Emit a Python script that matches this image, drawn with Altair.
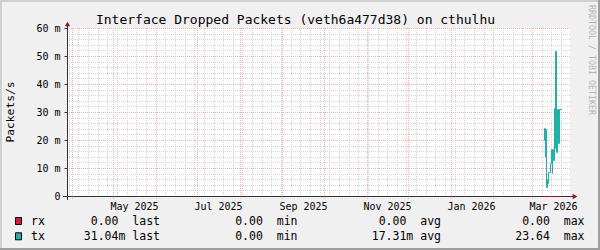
import altair as alt
import pandas as pd

FONT = "DejaVu Sans Mono"

# ---------------- data ----------------
sample_times = [
    "2026-03-09T08:15:00Z", "2026-03-09T17:00:00Z", "2026-03-10T05:10:00Z", "2026-03-10T17:20:00Z",
    "2026-03-11T05:30:00Z", "2026-03-11T14:15:00Z", "2026-03-12T04:15:00Z", "2026-03-12T13:00:00Z",
    "2026-03-13T01:00:00Z", "2026-03-14T10:10:00Z", "2026-03-14T22:25:00Z", "2026-03-15T10:35:00Z",
    "2026-03-15T22:45:00Z", "2026-03-16T09:15:00Z", "2026-03-16T18:00:00Z", "2026-03-17T07:50:00Z",
    "2026-03-17T13:05:00Z", "2026-03-18T18:40:00Z", "2026-03-19T06:55:00Z", "2026-03-20T07:15:00Z",
    "2026-03-20T16:00:00Z", "2026-03-21T19:50:00Z",
]
tx_values = [0.0200, 0.0243, 0.0140, 0.0240, 0.0140, 0.0032, 0.0060, 0.0046,
             0.0087, 0.0118, 0.0168, 0.0082, 0.0168, 0.0129, 0.0313, 0.0170,
             0.0518, 0.0157, 0.0310, 0.0190, 0.03104, 0.03104]
rx_values = [0.0, 0.0, 0.0, 0.0, 0.0, 0.0, 0.0, 0.0, 0.0, 0.0, 0.0,
             0.0, 0.0, 0.0, 0.0, 0.0, 0.0, 0.0, 0.0, 0.0, 0.0, 0.0]

month_starts = ["2025-04-01", "2025-05-01", "2025-06-01", "2025-07-01", "2025-08-01", "2025-09-01",
                "2025-10-01", "2025-11-01", "2025-12-01", "2026-01-01", "2026-02-01", "2026-03-01"]
label_months = [(2025, 5), (2025, 7), (2025, 9), (2025, 11), (2026, 1), (2026, 3)]
y_major = [0.01, 0.02, 0.03, 0.04, 0.05, 0.06]
y_ticks = [0.0, 0.01, 0.02, 0.03, 0.04, 0.05, 0.06]
y_minor = [0.002, 0.004, 0.006, 0.008, 0.012, 0.014, 0.016, 0.018, 0.022, 0.024, 0.026, 0.028,
           0.032, 0.034, 0.036, 0.038, 0.042, 0.044, 0.046, 0.048, 0.052, 0.054, 0.056, 0.058]

title_text = "Interface Dropped Packets (veth6a477d38) on cthulhu"
y_title = "Packets/s"
side_text = "RRDTOOL / TOBI OETIKER"

series_names = ["rx", "tx"]
series_colors = ["#dc143c", "#20b2aa"]
last_vals = ["0.00\u00a0", "31.04m"]
min_vals = ["0.00\u00a0", "0.00\u00a0"]
avg_vals = ["0.00\u00a0", "17.31m"]
max_vals = ["0.00\u00a0", "23.64\u00a0"]

# ---------------- layout ----------------
W, H = 503, 168
PAD_L, PAD_T = 67, 28

week_dates = pd.date_range("2025-03-30", "2026-03-28", freq="7D").strftime("%Y-%m-%d").tolist()
week_minor = [d for d in week_dates if d not in month_starts]

x_scale = alt.Scale(type="utc",
                    domain=[alt.DateTime(year=2025, month=3, date=28, hours=16, utc=True),
                            alt.DateTime(year=2026, month=3, date=28, hours=16, utc=True)],
                    round=True)
y_scale = alt.Scale(domain=[0, 0.06], nice=False, zero=True, round=True)

x_axis = alt.Axis(
    values=[alt.DateTime(year=y, month=m, date=16, utc=True) for y, m in label_months],
    labelExpr="utcFormat(datum.value, '%b %Y')",
    ticks=False, tickSize=0, domain=False, grid=False, title=None,
    labelFont=FONT, labelFontSize=10, labelColor="#000000",
    labelBaseline="alphabetic", labelPadding=13, labelFlush=False, labelOverlap=False,
    labelBound=False,
)
y_axis = alt.Axis(
    values=y_ticks,
    labelExpr="datum.value == 0 ? '0\u00a0\u00a0' : format(datum.value * 1000, '.0f') + '\u00a0m'",
    ticks=True, tickSize=3, tickColor="#333333", domain=False, grid=False, title=None,
    labelFont=FONT, labelFontSize=10, labelColor="#000000", labelPadding=4,
)

MINOR = "#d4d4d4"
MAJOR = "#f4b0b0"
AXIS = "#333333"
ARROW = "#7f1f1f"

def df1(**kw):
    return pd.DataFrame({k: [v] for k, v in kw.items()})

layers = []

# minor horizontal grid
layers.append(alt.Chart(pd.DataFrame({"v": y_minor})).mark_rule(
    color=MINOR, strokeDash=[1, 1], strokeWidth=1, yOffset=0.5
).encode(y=alt.Y("v:Q", scale=y_scale, axis=y_axis)))

# minor vertical grid (weekly)
layers.append(alt.Chart(pd.DataFrame({"d": week_minor})).mark_rule(
    color=MINOR, strokeDash=[1, 1], strokeWidth=1, xOffset=0.5
).encode(x=alt.X("d:T", scale=x_scale, axis=x_axis), y=alt.value(0), y2=alt.value(H)))

# major horizontal grid
layers.append(alt.Chart(pd.DataFrame({"v": y_major})).mark_rule(
    color=MAJOR, strokeDash=[1, 1], strokeWidth=1, yOffset=0.5
).encode(y=alt.Y("v:Q", scale=y_scale, axis=y_axis)))

# major vertical grid (monthly)
layers.append(alt.Chart(pd.DataFrame({"d": month_starts})).mark_rule(
    color=MAJOR, strokeDash=[1, 1], strokeWidth=1, xOffset=0.5
).encode(x=alt.X("d:T", scale=x_scale, axis=x_axis), y=alt.value(0), y2=alt.value(H + 3)))

series_df = pd.DataFrame({"t": sample_times, "tx": tx_values, "rx": rx_values})

# tx line
layers.append(alt.Chart(series_df).mark_line(
    interpolate="step-after", color=series_colors[1], strokeWidth=1, xOffset=0.5, yOffset=0.5
).encode(x=alt.X("t:T", scale=x_scale, axis=x_axis),
         y=alt.Y("tx:Q", scale=y_scale, axis=y_axis)))

# axis lines
dummy = df1(a=0)
layers.append(alt.Chart(dummy).mark_rule(color=AXIS, strokeWidth=1).encode(
    x=alt.value(-4), x2=alt.value(W + 3), y=alt.value(H + 0.5)))
layers.append(alt.Chart(dummy).mark_rule(color=AXIS, strokeWidth=1).encode(
    x=alt.value(0.5), y=alt.value(-3), y2=alt.value(H + 4)))
# arrows
layers.append(alt.Chart(dummy).mark_point(shape="triangle-up", filled=True, size=28, color=ARROW, opacity=1).encode(
    x=alt.value(0.5), y=alt.value(-4)))
layers.append(alt.Chart(dummy).mark_point(shape="triangle-right", filled=True, size=28, color=ARROW, opacity=1).encode(
    x=alt.value(W + 5), y=alt.value(H + 0.5)))

# rx line (zero, on the axis)
layers.append(alt.Chart(series_df).mark_line(
    interpolate="step-after", color="#b01030", strokeWidth=1, xOffset=0.5, yOffset=0.5
).encode(x=alt.X("t:T", scale=x_scale, axis=x_axis),
         y=alt.Y("rx:Q", scale=y_scale, axis=y_axis)))

def text_layer(s, x, y, size, align="left", baseline="alphabetic", angle=0, color="#000000"):
    return alt.Chart(df1(s=s)).mark_text(
        font=FONT, fontSize=size, align=align, baseline=baseline, angle=angle, color=color
    ).encode(x=alt.value(x), y=alt.value(y), text="s:N")

# title, y title, side text
layers.append(text_layer(title_text, 295.5 - PAD_L, 24 - PAD_T, 13, align="center"))
layers.append(text_layer(y_title, 11 - PAD_L, 112 - PAD_T, 11.3, align="center", baseline="middle", angle=270))
layers.append(text_layer(side_text, 590.5 - PAD_L, 60 - PAD_T, 8.3, align="center", baseline="middle",
                         angle=90, color="#b4b4b4"))

# frame shading
frame = [
    (-PAD_L, 600 - PAD_L, -PAD_T, -PAD_T + 2, "#cfcfcf"),
    (-PAD_L, -PAD_L + 2, -PAD_T, 250 - PAD_T, "#cfcfcf"),
    (600 - PAD_L - 2, 600 - PAD_L, -PAD_T, 250 - PAD_T, "#9e9e9e"),
    (-PAD_L, 600 - PAD_L, 250 - PAD_T - 2, 250 - PAD_T, "#9e9e9e"),
]
for x1, x2, y1, y2, c in frame:
    layers.append(alt.Chart(dummy).mark_rect(color=c).encode(
        x=alt.value(x1), x2=alt.value(x2), y=alt.value(y1), y2=alt.value(y2)))

# legend rows
baselines = [225, 240.3]
cells = [(last_vals, "last", 160), (min_vals, "min", 297.5), (avg_vals, "avg", 441), (max_vals, "max", 584.5)]
for i, name in enumerate(series_names):
    b = baselines[i] - PAD_T
    layers.append(alt.Chart(dummy).mark_rect(
        color=series_colors[i], stroke="#000000", strokeWidth=1).encode(
        x=alt.value(15.5 - PAD_L), x2=alt.value(21.5 - PAD_L),
        y=alt.value(b - 7.5), y2=alt.value(b - 0.5)))
    layers.append(text_layer(name, 31 - PAD_L, b, 11.5))
    for vals, lab, xr in cells:
        layers.append(text_layer(vals[i] + "\u00a0" + lab, xr - PAD_L, b, 11.5, align="right"))

chart = alt.layer(*layers).properties(
    width=W, height=H,
    autosize=alt.AutoSizeParams(type="none"),
    padding={"left": PAD_L, "top": PAD_T, "right": 600 - PAD_L - W, "bottom": 250 - PAD_T - H},
    background="#f0f0f0",
).configure_view(fill="#ffffff", stroke=None)

chart.save("out.html", embed_options={"renderer": "svg", "actions": False})
